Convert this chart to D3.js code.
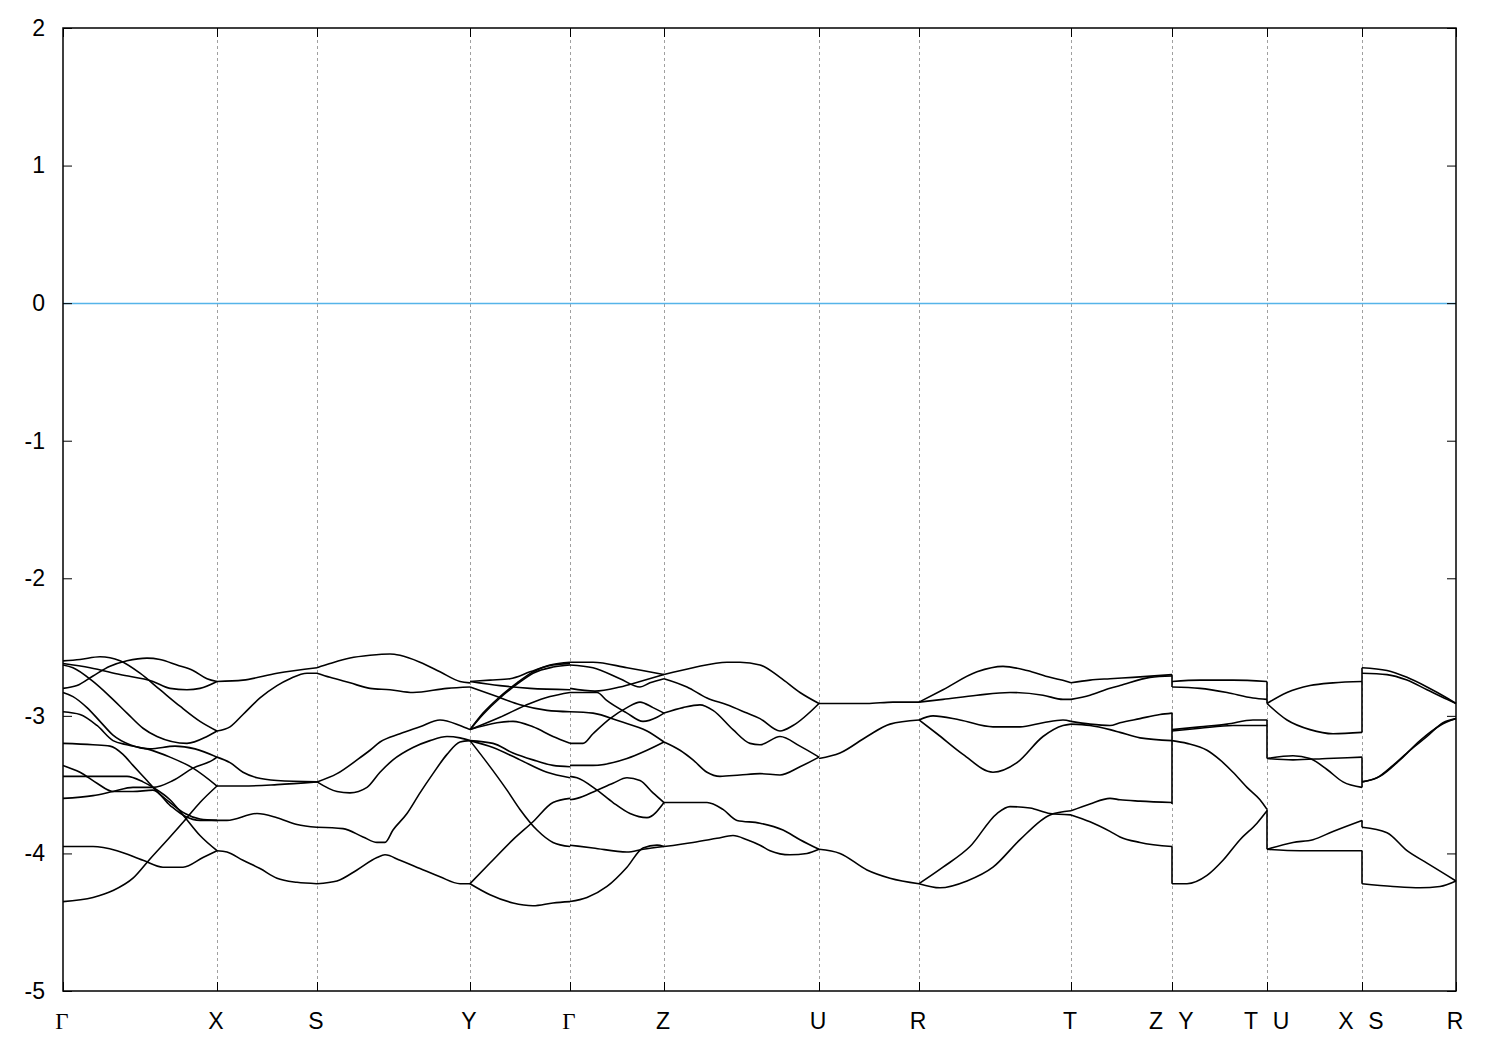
<!DOCTYPE html>
<html><head><meta charset="utf-8">
<script src="https://cdn.jsdelivr.net/npm/d3@7"></script>
<style>body{margin:0;background:#fff} svg{display:block}</style>
</head><body>
<svg id="chart" width="1500" height="1050"></svg>
<script>
// ---- high-symmetry path (k in path units) ----
const kTicks  = [0, 1.54, 2.54, 4.07, 5.07, 6.01, 7.56, 8.56, 10.08, 11.09, 12.04, 12.99, 13.93];
const kLabels = [["Γ"],["X"],["S"],["Y"],["Γ"],["Z"],["U"],["R"],["T"],["Z","Y"],["T","U"],["X","S"],["R"]];
const yTicks  = [-5, -4, -3, -2, -1, 0, 1, 2];
const fermiLevel = 0;

// ---- bands, one array per path segment; each curve = [[k, E], ...] ----
const bandsGX = [
  [[0,-2.80],[.14,-2.78],[.30,-2.71],[.47,-2.64],[.64,-2.60],[.84,-2.58],[.97,-2.59],[1.14,-2.63],[1.30,-2.67],[1.44,-2.73],[1.54,-2.75]],
  [[0,-2.60],[.17,-2.59],[.37,-2.57],[.57,-2.60],[.77,-2.69],[.97,-2.81],[1.17,-2.93],[1.37,-3.04],[1.54,-3.11]],
  [[0,-2.62],[.27,-2.65],[.57,-2.70],[.90,-2.75],[1.07,-2.80],[1.24,-2.81],[1.37,-2.80],[1.54,-2.75]],
  [[0,-2.63],[.10,-2.65],[.30,-2.75],[.47,-2.86],[.64,-2.98],[.80,-3.09],[.94,-3.15],[1.24,-3.20],[1.44,-3.15],[1.54,-3.11]],
  [[0,-2.83],[.10,-2.86],[.24,-2.94],[.37,-3.04],[.50,-3.14],[.67,-3.21],[.87,-3.24],[1.12,-3.22],[1.32,-3.24],[1.54,-3.30]],
  [[0,-2.97],[.17,-2.99],[.34,-3.07],[.50,-3.18],[.64,-3.21],[.84,-3.24],[1.07,-3.30],[1.30,-3.38],[1.54,-3.51]],
  [[0,-3.20],[.30,-3.21],[.47,-3.22],[.60,-3.28],[.70,-3.36],[.84,-3.47],[.94,-3.55],[1.07,-3.63],[1.22,-3.71],[1.37,-3.75],[1.54,-3.76]],
  [[0,-3.36],[.17,-3.41],[.34,-3.49],[.50,-3.55],[.70,-3.55],[.90,-3.54],[1.07,-3.65],[1.22,-3.73],[1.37,-3.76],[1.54,-3.76]],
  [[0,-3.44],[.30,-3.44],[.64,-3.44],[.80,-3.48],[.90,-3.52],[1.07,-3.61],[1.20,-3.72],[1.37,-3.87],[1.54,-3.98]],
  [[0,-3.60],[.30,-3.58],[.50,-3.55],[.70,-3.52],[.90,-3.52],[1.10,-3.47],[1.30,-3.38],[1.50,-3.32],[1.54,-3.30]],
  [[0,-3.95],[.30,-3.95],[.54,-3.98],[.80,-4.05],[1.00,-4.10],[1.20,-4.10],[1.40,-4.03],[1.54,-3.98]],
  [[0,-4.35],[.30,-4.32],[.50,-4.27],[.70,-4.18],[.87,-4.04],[1.07,-3.88],[1.24,-3.74],[1.37,-3.63],[1.54,-3.51]]
];
const bandsXS = [
  [[1.54,-2.75],[1.80,-2.74],[2.14,-2.69],[2.54,-2.65]],
  [[1.54,-3.11],[1.67,-3.08],[1.80,-2.99],[1.97,-2.87],[2.14,-2.78],[2.27,-2.73],[2.44,-2.69],[2.54,-2.69]],
  [[1.54,-3.30],[1.67,-3.34],[1.80,-3.41],[1.94,-3.45],[2.14,-3.47],[2.54,-3.48]],
  [[1.54,-3.51],[1.80,-3.51],[2.14,-3.50],[2.54,-3.48]],
  [[1.54,-3.76],[1.64,-3.76],[1.94,-3.71],[2.14,-3.74],[2.34,-3.79],[2.54,-3.81]],
  [[1.54,-3.98],[1.64,-3.99],[1.80,-4.05],[1.97,-4.11],[2.14,-4.18],[2.34,-4.21],[2.54,-4.22]]
];
const bandsSY = [
  [[2.54,-2.65],[2.67,-2.62],[2.87,-2.58],[3.07,-2.56],[3.27,-2.55],[3.37,-2.56],[3.57,-2.61],[3.77,-2.68],[3.97,-2.75],[4.07,-2.76]],
  [[2.54,-2.69],[2.67,-2.72],[2.87,-2.76],[3.07,-2.80],[3.27,-2.81],[3.50,-2.83],[3.84,-2.80],[4.07,-2.79]],
  [[2.54,-3.48],[2.74,-3.42],[2.94,-3.32],[3.07,-3.25],[3.17,-3.19],[3.37,-3.13],[3.57,-3.08],[3.77,-3.03],[3.97,-3.07],[4.07,-3.10]],
  [[2.54,-3.48],[2.74,-3.55],[2.87,-3.56],[3.04,-3.52],[3.17,-3.41],[3.30,-3.32],[3.50,-3.23],[3.67,-3.18],[3.84,-3.15],[3.97,-3.16],[4.07,-3.18]],
  [[2.54,-3.81],[2.80,-3.82],[3.00,-3.88],[3.14,-3.92],[3.22,-3.92],[3.30,-3.83],[3.44,-3.71],[3.57,-3.56],[3.70,-3.42],[3.84,-3.28],[3.97,-3.19],[4.07,-3.18]],
  [[2.54,-4.22],[2.74,-4.20],[2.94,-4.12],[3.14,-4.03],[3.22,-4.01],[3.37,-4.05],[3.57,-4.11],[3.77,-4.17],[3.97,-4.22],[4.07,-4.22]]
];
const bandsYG = [
  [[4.07,-2.75],[4.27,-2.74],[4.47,-2.73],[4.67,-2.68],[4.87,-2.63],[5.07,-2.61]],
  [[4.07,-2.75],[4.37,-2.78],[4.67,-2.80],[5.07,-2.81]],
  [[4.07,-2.79],[4.34,-2.86],[4.57,-2.92],[4.84,-2.96],[5.07,-2.97]],
  [[4.07,-3.10],[4.20,-2.98],[4.37,-2.86],[4.54,-2.76],[4.70,-2.68],[4.90,-2.63],[5.07,-2.62]],
  [[4.07,-3.10],[4.20,-2.99],[4.37,-2.87],[4.54,-2.77],[4.70,-2.69],[4.90,-2.645],[5.07,-2.63]],
  [[4.07,-3.10],[4.37,-3.01],[4.67,-2.91],[4.87,-2.86],[5.07,-2.83]],
  [[4.07,-3.10],[4.34,-3.05],[4.50,-3.04],[4.70,-3.08],[4.90,-3.15],[5.07,-3.20]],
  [[4.07,-3.18],[4.30,-3.20],[4.50,-3.27],[4.70,-3.32],[4.90,-3.36],[5.07,-3.37]],
  [[4.07,-3.18],[4.30,-3.23],[4.57,-3.32],[4.84,-3.41],[5.07,-3.45]],
  [[4.07,-3.18],[4.24,-3.34],[4.44,-3.54],[4.57,-3.68],[4.74,-3.83],[4.90,-3.92],[5.07,-3.95]],
  [[4.07,-4.22],[4.27,-4.07],[4.50,-3.90],[4.70,-3.77],[4.90,-3.63],[5.07,-3.60]],
  [[4.07,-4.22],[4.27,-4.30],[4.50,-4.36],[4.70,-4.38],[4.90,-4.36],[5.07,-4.35]]
];
const bandsGZ = [
  [[5.07,-2.61],[5.30,-2.61],[5.64,-2.65],[5.94,-2.69],[6.01,-2.70]],
  [[5.07,-2.63],[5.30,-2.65],[5.57,-2.73],[5.77,-2.79],[5.87,-2.76],[6.01,-2.73]],
  [[5.07,-2.80],[5.32,-2.82],[5.57,-2.79],[5.77,-2.75],[6.01,-2.70]],
  [[5.07,-2.83],[5.34,-2.83],[5.44,-2.89],[5.64,-2.98],[5.80,-3.04],[5.94,-3.01],[6.01,-2.98]],
  [[5.07,-2.97],[5.30,-2.98],[5.57,-3.04],[5.84,-3.11],[6.01,-3.19]],
  [[5.07,-3.20],[5.20,-3.20],[5.30,-3.13],[5.47,-3.02],[5.64,-2.94],[5.77,-2.90],[5.90,-2.94],[6.01,-2.98]],
  [[5.07,-3.36],[5.30,-3.36],[5.64,-3.31],[5.84,-3.25],[6.01,-3.19]],
  [[5.07,-3.44],[5.14,-3.45],[5.34,-3.54],[5.50,-3.63],[5.67,-3.71],[5.84,-3.74],[6.01,-3.63]],
  [[5.07,-3.61],[5.14,-3.60],[5.34,-3.54],[5.50,-3.49],[5.64,-3.45],[5.77,-3.47],[5.90,-3.56],[6.01,-3.63]],
  [[5.07,-3.94],[5.30,-3.96],[5.64,-3.99],[5.80,-3.97],[6.01,-3.95]],
  [[5.07,-4.35],[5.24,-4.32],[5.44,-4.24],[5.64,-4.10],[5.80,-3.96],[5.94,-3.94],[6.01,-3.95]]
];
const bandsZU = [
  [[6.01,-2.70],[6.30,-2.65],[6.64,-2.61],[6.77,-2.61],[6.97,-2.63],[7.17,-2.72],[7.37,-2.83],[7.56,-2.91]],
  [[6.01,-2.73],[6.24,-2.79],[6.44,-2.87],[6.64,-2.92],[6.84,-2.98],[6.97,-3.02],[7.17,-3.11],[7.30,-3.07],[7.56,-2.91]],
  [[6.01,-2.98],[6.20,-2.94],[6.37,-2.92],[6.50,-2.96],[6.70,-3.10],[6.87,-3.20],[6.97,-3.21],[7.17,-3.15],[7.37,-3.22],[7.56,-3.30]],
  [[6.01,-3.19],[6.17,-3.25],[6.30,-3.32],[6.44,-3.41],[6.57,-3.44],[6.77,-3.43],[6.97,-3.42],[7.17,-3.43],[7.37,-3.37],[7.56,-3.30]],
  [[6.01,-3.63],[6.30,-3.63],[6.44,-3.63],[6.60,-3.68],[6.74,-3.76],[6.97,-3.78],[7.20,-3.83],[7.37,-3.90],[7.56,-3.97]],
  [[6.01,-3.95],[6.30,-3.92],[6.54,-3.89],[6.70,-3.87],[6.84,-3.90],[6.97,-3.94],[7.07,-3.98],[7.27,-4.01],[7.44,-4.00],[7.56,-3.97]]
];
const bandsUR = [
  [[7.56,-2.91],[8.04,-2.91],[8.30,-2.90],[8.56,-2.90]],
  [[7.56,-3.31],[7.77,-3.27],[8.04,-3.15],[8.27,-3.06],[8.56,-3.03]],
  [[7.56,-3.97],[7.77,-4.00],[8.04,-4.12],[8.27,-4.18],[8.56,-4.22]]
];
const bandsRT = [
  [[8.56,-2.90],[8.80,-2.81],[9.14,-2.68],[9.40,-2.64],[9.64,-2.67],[9.87,-2.72],[10.04,-2.75],[10.08,-2.76]],
  [[8.56,-2.90],[8.80,-2.88],[9.14,-2.85],[9.47,-2.83],[9.80,-2.85],[10.00,-2.88],[10.08,-2.88]],
  [[8.56,-3.03],[8.70,-3.00],[8.97,-3.03],[9.30,-3.08],[9.57,-3.08],[9.80,-3.05],[10.00,-3.03],[10.08,-3.04]],
  [[8.56,-3.03],[8.74,-3.13],[9.00,-3.28],[9.30,-3.41],[9.54,-3.34],[9.80,-3.15],[10.00,-3.07],[10.08,-3.06]],
  [[8.56,-4.22],[8.80,-4.10],[9.07,-3.95],[9.34,-3.71],[9.47,-3.66],[9.67,-3.67],[9.87,-3.71],[10.08,-3.72]],
  [[8.56,-4.22],[8.77,-4.25],[9.04,-4.20],[9.30,-4.10],[9.57,-3.90],[9.87,-3.72],[10.08,-3.69]]
];
const bandsTZ = [
  [[10.08,-2.76],[10.27,-2.74],[10.47,-2.73],[10.70,-2.72],[11.09,-2.70]],
  [[10.08,-2.88],[10.27,-2.85],[10.47,-2.80],[10.57,-2.78],[10.87,-2.72],[11.09,-2.71]],
  [[10.08,-3.04],[10.27,-3.06],[10.47,-3.07],[10.57,-3.05],[10.77,-3.02],[10.97,-2.99],[11.09,-2.98]],
  [[10.08,-3.06],[10.27,-3.07],[10.47,-3.10],[10.57,-3.12],[10.77,-3.16],[11.09,-3.18]],
  [[10.08,-3.69],[10.27,-3.64],[10.47,-3.60],[10.57,-3.61],[10.77,-3.62],[11.09,-3.63]],
  [[10.08,-3.72],[10.27,-3.77],[10.47,-3.84],[10.57,-3.88],[10.77,-3.92],[11.09,-3.95]]
];
const bandsYT = [
  [[11.09,-2.75],[11.37,-2.74],[11.70,-2.74],[12.04,-2.75]],
  [[11.09,-2.79],[11.37,-2.80],[11.64,-2.83],[11.90,-2.87],[12.04,-2.88]],
  [[11.09,-3.10],[11.37,-3.08],[11.64,-3.06],[11.90,-3.03],[12.04,-3.03]],
  [[11.09,-3.11],[11.37,-3.09],[11.70,-3.07],[12.04,-3.07]],
  [[11.09,-3.18],[11.24,-3.20],[11.44,-3.25],[11.57,-3.32],[11.70,-3.41],[11.84,-3.52],[11.97,-3.61],[12.04,-3.68]],
  [[11.09,-4.22],[11.24,-4.22],[11.44,-4.16],[11.60,-4.05],[11.77,-3.90],[11.94,-3.78],[12.04,-3.69]]
];
const bandsUX = [
  [[12.04,-2.91],[12.24,-2.83],[12.47,-2.78],[12.70,-2.76],[12.99,-2.75]],
  [[12.04,-2.91],[12.24,-3.03],[12.47,-3.10],[12.70,-3.13],[12.99,-3.12]],
  [[12.04,-3.31],[12.30,-3.29],[12.47,-3.31],[12.64,-3.39],[12.80,-3.48],[12.99,-3.52]],
  [[12.04,-3.31],[12.30,-3.32],[12.64,-3.31],[12.99,-3.30]],
  [[12.04,-3.97],[12.30,-3.92],[12.50,-3.90],[12.70,-3.84],[12.99,-3.76]],
  [[12.04,-3.97],[12.37,-3.98],[12.99,-3.98]]
];
const bandsSR = [
  [[12.99,-2.65],[13.24,-2.67],[13.44,-2.72],[13.64,-2.79],[13.84,-2.87],[13.93,-2.91]],
  [[12.99,-2.69],[13.24,-2.70],[13.44,-2.74],[13.64,-2.81],[13.84,-2.88],[13.93,-2.91]],
  [[12.99,-3.48],[13.14,-3.45],[13.30,-3.36],[13.47,-3.25],[13.64,-3.15],[13.80,-3.05],[13.93,-3.02]],
  [[12.99,-3.48],[13.17,-3.44],[13.37,-3.32],[13.57,-3.18],[13.77,-3.07],[13.93,-3.02]],
  [[12.99,-3.81],[13.24,-3.85],[13.44,-3.98],[13.64,-4.07],[13.84,-4.16],[13.93,-4.20]],
  [[12.99,-4.22],[13.30,-4.24],[13.57,-4.25],[13.77,-4.24],[13.93,-4.20]]
];
// vertical connections at the path breaks: [k, E_from, E_to]
const jumps = [
  [11.09,-2.70,-2.79],[11.09,-2.98,-3.64],[11.09,-3.95,-4.22],
  [12.04,-2.75,-2.91],[12.04,-3.03,-3.31],[12.04,-3.68,-3.97],
  [12.99,-2.65,-3.12],[12.99,-3.30,-3.52],[12.99,-3.76,-3.81],[12.99,-3.98,-4.22]
];

// ---- drawing ----
const W = 1500, H = 1050;
const M = {left: 63, right: 44, top: 28, bottom: 59};
const svg = d3.select("#chart");
svg.append("rect").attr("width", W).attr("height", H).attr("fill", "#fff");

const x = d3.scaleLinear().domain([kTicks[0], kTicks[kTicks.length - 1]]).range([M.left, W - M.right]);
const y = d3.scaleLinear().domain([-5, 2]).range([H - M.bottom, M.top]);
const FONT = "'Liberation Sans', Arial, sans-serif";
const FS = 23;

// dashed vertical grid at interior high-symmetry points
svg.append("g").selectAll("line").data(kTicks.slice(1, -1)).join("line")
  .attr("x1", d => Math.round(x(d)) + 0.5).attr("x2", d => Math.round(x(d)) + 0.5)
  .attr("y1", y(-5)).attr("y2", y(2))
  .attr("stroke", "#a0a0a0").attr("stroke-width", 1).attr("stroke-dasharray", "3,3");

// Fermi level
svg.append("line")
  .attr("x1", x.range()[0]).attr("x2", x.range()[1])
  .attr("y1", Math.round(y(fermiLevel)) + 0.5).attr("y2", Math.round(y(fermiLevel)) + 0.5)
  .attr("stroke", "#56b4e9").attr("stroke-width", 1.4);

// bands
const line = d3.line().x(d => x(d[0])).y(d => y(d[1])).curve(d3.curveMonotoneX);
const allCurves = [].concat(bandsGX, bandsXS, bandsSY, bandsYG, bandsGZ, bandsZU, bandsUR, bandsRT, bandsTZ, bandsYT, bandsUX, bandsSR);
svg.append("g").selectAll("path").data(allCurves).join("path")
  .attr("d", line).attr("fill", "none").attr("stroke", "#000").attr("stroke-width", 1.6)
  .attr("stroke-linejoin", "round");
svg.append("g").selectAll("line").data(jumps).join("line")
  .attr("x1", d => x(d[0])).attr("x2", d => x(d[0]))
  .attr("y1", d => y(d[1])).attr("y2", d => y(d[2]))
  .attr("stroke", "#000").attr("stroke-width", 1.6);

// axes (inward ticks)
const yAxisL = d3.axisLeft(y).tickValues(yTicks).tickSize(-9).tickPadding(18).tickFormat(d => String(d));
const yAxisR = d3.axisRight(y).tickValues(yTicks).tickSize(-9).tickFormat("");
const xAxisB = d3.axisBottom(x).tickValues(kTicks).tickSize(-9).tickFormat("");
const xAxisT = d3.axisTop(x).tickValues(kTicks).tickSize(-9).tickFormat("");
const gL = svg.append("g").attr("transform", `translate(${M.left},0)`).call(yAxisL);
svg.append("g").attr("transform", `translate(${W - M.right},0)`).call(yAxisR);
svg.append("g").attr("transform", `translate(0,${H - M.bottom})`).call(xAxisB);
svg.append("g").attr("transform", `translate(0,${M.top})`).call(xAxisT);
svg.selectAll(".domain").remove();
svg.selectAll(".tick line").attr("stroke", "#000").attr("stroke-width", 1);
gL.selectAll("text").attr("font-family", FONT).attr("font-size", FS).attr("fill", "#000");

// frame
svg.append("rect").attr("x", M.left).attr("y", M.top)
  .attr("width", W - M.right - M.left).attr("height", H - M.bottom - M.top)
  .attr("fill", "none").attr("stroke", "#000").attr("stroke-width", 1.5);

// k-point labels
const lab = svg.append("g");
kTicks.forEach((k, i) => {
  const parts = kLabels[i];
  parts.forEach((t, j) => {
    const off = parts.length === 1 ? -1 : (j === 0 ? -16 : 14);
    lab.append("text")
      .attr("x", x(k) + off).attr("y", H - M.bottom + 38)
      .attr("text-anchor", "middle")
      .attr("font-family", t === "Γ" ? "'Liberation Serif', serif" : FONT)
      .attr("font-size", FS).attr("fill", "#000")
      .text(t);
  });
});
</script>
</body></html>
